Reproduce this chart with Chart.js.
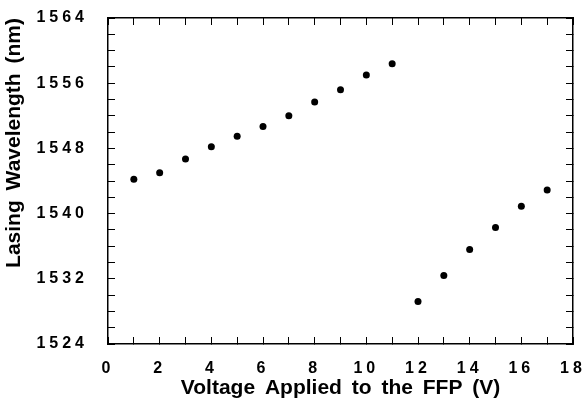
<!DOCTYPE html>
<html>
<head>
<meta charset="utf-8">
<script src="https://cdn.jsdelivr.net/npm/chart.js@4.4.1/dist/chart.umd.min.js"></script>
<style>
    html, body { margin: 0; padding: 0; background: #fff; }
    canvas { display: block; }
</style>
</head>
<body>
<canvas id="chart" width="584" height="404"></canvas>
<script>
// ---------- Data ----------
const voltageLow = [1, 2, 3, 4, 5, 6, 7, 8, 9, 10, 11];
const wavelengthLow = [1544.2, 1545.0, 1546.7, 1548.2, 1549.5, 1550.7, 1552.0, 1553.7, 1555.2, 1557.0, 1558.4];
const voltageHigh = [12, 13, 14, 15, 16, 17];
const wavelengthHigh = [1529.2, 1532.4, 1535.6, 1538.3, 1540.9, 1542.9];

// axis ranges and tick spacing
const xRange = [0, 18];
const xTickStep = 1;
const xLabelEvery = 2;
const yRange = [1524, 1564];
const yTickStep = 2;
const yLabelEvery = 8;

const xTitle = 'Voltage Applied to the FFP (V)';
const yTitle = 'Lasing Wavelength (nm)';

// ---------- Styling ----------
const family = "'Liberation Sans', Arial, Helvetica, sans-serif";
const tickFont = { family: family, size: 16, weight: 'bold' };
const titleFont = { family: family, size: 21, weight: 'bold' };

function toPoints(xs, ys) {
    return xs.map((x, i) => ({ x: x, y: ys[i] }));
}

// fixed axis box sizes so the plot frame sits where it does in the figure,
// and no extra label overhang padding pushed onto the chart area
function fixBox(w, h) {
    return scale => {
        if (w != null) scale.width = w;
        if (h != null) scale.height = h;
        scale.paddingLeft = 0;
        scale.paddingRight = 0;
        scale.paddingTop = 0;
        scale.paddingBottom = 0;
    };
}

// canvas text spacing: titles with wide word gaps, tick labels spread out
const spacingPlugin = {
    id: 'spacing',
    beforeDraw(chart) {
        chart.ctx.letterSpacing = '0px';
        chart.ctx.wordSpacing = '4px';
    },
    afterDatasetsDraw(chart) {
        chart.ctx.letterSpacing = '4px';
        chart.ctx.wordSpacing = '0px';
    }
};

const frameGrid = { drawOnChartArea: false, drawTicks: true, tickLength: -7, tickColor: '#000', tickWidth: 1 };
const frameBorder = { display: true, color: '#000', width: 1.5 };

const dotStyle = {
    showLine: false,
    pointRadius: 3.5,
    pointHoverRadius: 3.5,
    pointBackgroundColor: '#000',
    pointBorderWidth: 0
};

// ---------- Chart ----------
const ctx = document.getElementById('chart').getContext('2d');
new Chart(ctx, {
    type: 'scatter',
    data: {
        datasets: [
            Object.assign({ label: 'low', data: toPoints(voltageLow, wavelengthLow) }, dotStyle),
            Object.assign({ label: 'high', data: toPoints(voltageHigh, wavelengthHigh) }, dotStyle)
        ]
    },
    options: {
        responsive: false,
        animation: false,
        devicePixelRatio: 1,
        layout: { padding: 0 },
        plugins: { legend: { display: false }, tooltip: { enabled: false } },
        scales: {
            x: {
                type: 'linear', position: 'bottom',
                min: xRange[0], max: xRange[1],
                grid: frameGrid, border: frameBorder,
                ticks: {
                    stepSize: xTickStep, autoSkip: false, maxRotation: 0,
                    font: tickFont, color: '#000', padding: 22, z: 1,
                    callback: v => (v % xLabelEvery === 0 ? String(v) : '')
                },
                title: { display: true, text: xTitle, font: titleFont, color: '#000', padding: { top: 0, bottom: 3 } },
                afterFit: fixBox(null, 60)
            },
            y: {
                type: 'linear', position: 'left',
                min: yRange[0], max: yRange[1],
                grid: frameGrid, border: frameBorder,
                ticks: {
                    stepSize: yTickStep, autoSkip: false,
                    font: tickFont, color: '#000', padding: 27, z: 1,
                    callback: v => ((v - yRange[0]) % yLabelEvery === 0 ? String(v) : '')
                },
                title: { display: true, text: yTitle, font: titleFont, color: '#000', align: 'end', padding: { top: 2, bottom: 0 } },
                afterFit: fixBox(108, null)
            },
            x2: {
                type: 'linear', position: 'top',
                min: xRange[0], max: xRange[1],
                grid: frameGrid, border: frameBorder,
                ticks: { stepSize: xTickStep, display: false },
                afterFit: fixBox(null, 18)
            },
            y2: {
                type: 'linear', position: 'right',
                min: yRange[0], max: yRange[1],
                grid: frameGrid, border: frameBorder,
                ticks: { stepSize: yTickStep, display: false },
                afterFit: fixBox(11, null)
            }
        }
    },
    plugins: [spacingPlugin]
});
</script>
</body>
</html>
